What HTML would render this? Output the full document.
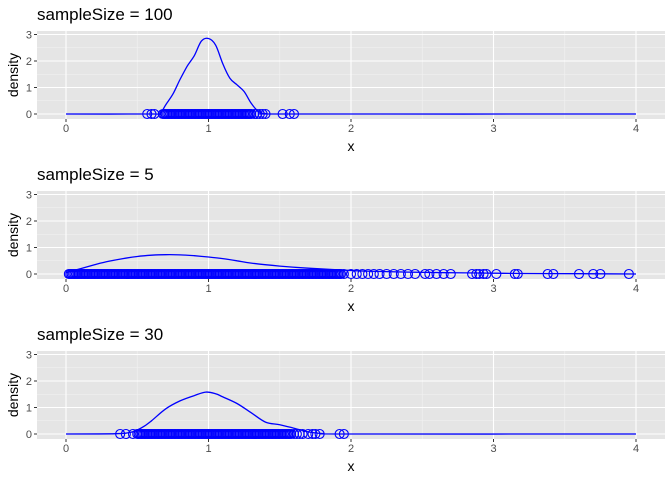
<!DOCTYPE html>
<html><head><meta charset="utf-8"><style>
body{margin:0;background:#fff;}
svg{display:block;font-family:"Liberation Sans",Arial,sans-serif;}
</style></head><body>
<svg id="chart" width="672" height="480" xmlns="http://www.w3.org/2000/svg"></svg>
<script>
const panelTitles = ["sampleSize = 100", "sampleSize = 5", "sampleSize = 30"];
const xTicks = [0, 1, 2, 3, 4];
const yTicks = [0, 1, 2, 3];
// density curves: x values and density values per panel
const densX1 = [0,0.6,0.66,0.7,0.75,0.8,0.85,0.9,0.95,1.0,1.05,1.1,1.15,1.2,1.25,1.3,1.35,1.4,1.6,4];
const densY1 = [0,0,0.02,0.35,0.75,1.3,1.8,2.2,2.75,2.85,2.6,1.9,1.35,1.1,0.85,0.4,0.1,0.02,0,0];
const densX2 = [0,0.1,0.2,0.3,0.4,0.5,0.6,0.7,0.8,0.9,1.0,1.1,1.2,1.3,1.5,1.7,1.9,2.1,2.4,2.8,3.2,3.6,4];
const densY2 = [0.05,0.2,0.35,0.48,0.58,0.66,0.71,0.73,0.72,0.69,0.64,0.58,0.5,0.41,0.3,0.22,0.16,0.11,0.07,0.04,0.02,0.01,0];
const densX3 = [0,0.35,0.45,0.5,0.55,0.6,0.7,0.8,0.9,0.98,1.05,1.1,1.2,1.3,1.4,1.5,1.6,1.7,1.8,2,4];
const densY3 = [0,0.01,0.06,0.15,0.3,0.5,0.95,1.25,1.45,1.58,1.52,1.4,1.15,0.8,0.45,0.35,0.22,0.08,0.02,0,0];
// observed sample points (rug at y=0)
const pts1 = [0.57,0.6,0.62,0.68,0.69,0.7,0.71,0.72,0.73,0.74,0.75,0.76,0.77,0.78,0.79,0.8,0.81,0.82,0.83,0.84,0.85,0.86,0.87,0.88,0.89,0.9,0.91,0.92,0.93,0.94,0.95,0.96,0.97,0.98,0.99,1.0,1.01,1.02,1.03,1.04,1.05,1.06,1.07,1.08,1.09,1.1,1.11,1.12,1.13,1.14,1.15,1.16,1.17,1.18,1.19,1.2,1.21,1.22,1.23,1.24,1.25,1.26,1.27,1.28,1.29,1.3,1.32,1.34,1.36,1.38,1.4,1.52,1.57,1.6];
const pts2 = [0.02,0.03,0.04,0.05,0.06,0.07,0.08,0.09,0.1,0.11,0.12,0.13,0.14,0.15,0.16,0.17,0.18,0.19,0.2,0.21,0.22,0.23,0.24,0.25,0.26,0.27,0.28,0.29,0.3,0.31,0.32,0.33,0.34,0.35,0.36,0.37,0.38,0.39,0.4,0.41,0.42,0.43,0.44,0.45,0.46,0.47,0.48,0.49,0.5,0.51,0.52,0.53,0.54,0.55,0.56,0.57,0.58,0.59,0.6,0.61,0.62,0.63,0.64,0.65,0.66,0.67,0.68,0.69,0.7,0.71,0.72,0.73,0.74,0.75,0.76,0.77,0.78,0.79,0.8,0.81,0.82,0.83,0.84,0.85,0.86,0.87,0.88,0.89,0.9,0.91,0.92,0.93,0.94,0.95,0.96,0.97,0.98,0.99,1.0,1.01,1.02,1.03,1.04,1.05,1.06,1.07,1.08,1.09,1.1,1.11,1.12,1.13,1.14,1.15,1.16,1.17,1.18,1.19,1.2,1.21,1.22,1.23,1.24,1.25,1.26,1.27,1.28,1.29,1.3,1.31,1.32,1.33,1.34,1.35,1.36,1.37,1.38,1.39,1.4,1.41,1.42,1.43,1.44,1.45,1.46,1.47,1.48,1.49,1.5,1.51,1.52,1.53,1.54,1.55,1.56,1.57,1.58,1.59,1.6,1.61,1.62,1.63,1.64,1.65,1.66,1.67,1.68,1.69,1.7,1.71,1.72,1.73,1.74,1.75,1.76,1.77,1.78,1.79,1.8,1.81,1.82,1.83,1.84,1.85,1.86,1.87,1.88,1.89,1.9,1.91,1.92,1.93,1.95,2.0,2.04,2.08,2.12,2.16,2.2,2.25,2.3,2.35,2.4,2.45,2.52,2.55,2.6,2.65,2.7,2.85,2.88,2.9,2.93,2.95,3.02,3.15,3.17,3.38,3.42,3.6,3.7,3.75,3.95];
const pts3 = [0.38,0.42,0.47,0.5,0.51,0.52,0.53,0.54,0.55,0.56,0.57,0.58,0.59,0.6,0.61,0.62,0.63,0.64,0.65,0.66,0.67,0.68,0.69,0.7,0.71,0.72,0.73,0.74,0.75,0.76,0.77,0.78,0.79,0.8,0.81,0.82,0.83,0.84,0.85,0.86,0.87,0.88,0.89,0.9,0.91,0.92,0.93,0.94,0.95,0.96,0.97,0.98,0.99,1.0,1.01,1.02,1.03,1.04,1.05,1.06,1.07,1.08,1.09,1.1,1.11,1.12,1.13,1.14,1.15,1.16,1.17,1.18,1.19,1.2,1.21,1.22,1.23,1.24,1.25,1.26,1.27,1.28,1.29,1.3,1.31,1.32,1.33,1.34,1.35,1.36,1.37,1.38,1.39,1.4,1.41,1.42,1.43,1.44,1.45,1.46,1.47,1.48,1.49,1.5,1.51,1.52,1.53,1.54,1.55,1.56,1.57,1.58,1.6,1.62,1.64,1.66,1.7,1.73,1.75,1.78,1.92,1.95];

const svg = document.getElementById('chart');
const NS = 'http://www.w3.org/2000/svg';
function mk(tag, attrs, parent, text){const e=document.createElementNS(NS,tag);for(const k in attrs)e.setAttribute(k,attrs[k]);if(text!==undefined)e.textContent=text;parent.appendChild(e);return e;}
function smooth(P){let d='M'+P[0][0].toFixed(1)+','+P[0][1].toFixed(1);for(let i=0;i<P.length-1;i++){const p0=P[Math.max(0,i-1)],p1=P[i],p2=P[i+1],p3=P[Math.min(P.length-1,i+2)];const c1=[p1[0]+(p2[0]-p0[0])/6,p1[1]+(p2[1]-p0[1])/6],c2=[p2[0]-(p3[0]-p1[0])/6,p2[1]-(p3[1]-p1[1])/6];d+=`C${c1[0].toFixed(1)},${c1[1].toFixed(1)} ${c2[0].toFixed(1)},${c2[1].toFixed(1)} ${p2[0].toFixed(1)},${p2[1].toFixed(1)}`;}return d;}
const X0=37, X1=665;
const sx = v => 66 + v*142.5;
const panels=[{x:densX1,y:densY1,p:pts1},{x:densX2,y:densY2,p:pts2},{x:densX3,y:densY3,p:pts3}];
panels.forEach((pd,i)=>{
  const top=31+i*160, zero=top+83;
  const sy = v => zero - v*26.5;
  const g=mk('g',{},svg);
  
  
  const t=mk('text',{x:37,y:top-11,'font-size':17,fill:'#000'},g,panelTitles[i]);
  
  
  const bg=mk('rect',{x:X0,y:top,width:X1-X0,height:88,fill:'#e5e5e5'},g);
  
  
  for(let k=0;k<3;k++){const v=k+0.5;mk('line',{x1:X0,x2:X1,y1:sy(v),y2:sy(v),stroke:'#f2f2f2','stroke-width':0.6},g);}
  for(let k=0;k<4;k++){const v=k+0.5;mk('line',{x1:sx(v),x2:sx(v),y1:top,y2:top+88,stroke:'#f2f2f2','stroke-width':0.6},g);}
  yTicks.forEach(v=>{
    mk('line',{x1:X0,x2:X1,y1:sy(v),y2:sy(v),stroke:'#fff','stroke-width':1.1},g);
    mk('line',{x1:X0-3,x2:X0,y1:sy(v),y2:sy(v),stroke:'#333','stroke-width':1},g);
    const l=mk('text',{x:X0-5,y:sy(v)+4,'font-size':11,fill:'#4d4d4d','text-anchor':'end'},g,String(v));
    
    
  });
  xTicks.forEach(v=>{
    mk('line',{x1:sx(v),x2:sx(v),y1:top,y2:top+88,stroke:'#fff','stroke-width':1.1},g);
    mk('line',{x1:sx(v),x2:sx(v),y1:top+88,y2:top+91,stroke:'#333','stroke-width':1},g);
    const l=mk('text',{x:sx(v),y:top+101,'font-size':11,fill:'#4d4d4d','text-anchor':'middle'},g,String(v));
    
    
  });
  const xt=mk('text',{x:351,y:top+120,'font-size':14,fill:'#000','text-anchor':'middle'},g,'x');
  
  
  const yt=mk('text',{x:0,y:0,'font-size':14,fill:'#000','text-anchor':'middle',transform:`translate(18,${top+44}) rotate(-90)`},g,'density');
  
  
  pd.p.forEach(v=>{
    const c=mk('circle',{cx:sx(v),cy:zero,r:4.5,fill:'none',stroke:'#0000ff','stroke-width':1.1},g);
    
    
  });
  const P=pd.x.map((v,j)=>[sx(v),sy(pd.y[j])]);
  const path=mk('path',{d:smooth(P),fill:'none',stroke:'#0000ff','stroke-width':1.3,'stroke-linejoin':'round'},g);
  
  
});
</script>
</body></html>
